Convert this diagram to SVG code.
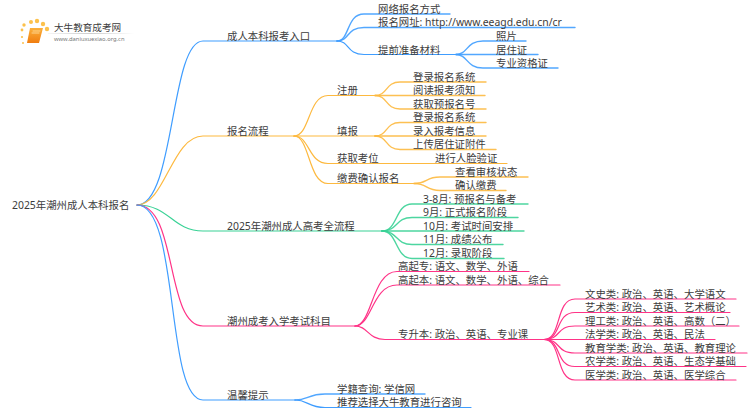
<svg xmlns="http://www.w3.org/2000/svg" width="750" height="410" viewBox="0 0 750 410">
<defs>
<linearGradient id="bk" x1="0" y1="0" x2="0" y2="1"><stop offset="0" stop-color="#fbb03b"/><stop offset="1" stop-color="#f07d10"/></linearGradient>
<linearGradient id="fade" x1="0" y1="0" x2="1" y2="0"><stop offset="0" stop-color="#ccc" stop-opacity="0.2"/><stop offset="0.5" stop-color="#ccc"/><stop offset="1" stop-color="#ccc" stop-opacity="0"/></linearGradient>
</defs>
<style>
text{font-family:"Noto Sans","Noto Sans CJK SC",sans-serif;font-size:10.4px;fill:#3c3c3c}
path{fill:none;stroke-width:1.2;stroke-linecap:round}
.b{stroke:#3f9dff}.o{stroke:#fdb93f}.g{stroke:#3ad296}.p{stroke:#ff3387}.u{stroke-width:1.4;stroke-opacity:.9}
.d{fill:#fcc14c}
</style>
<rect width="750" height="410" fill="#fff"/>
<g id="connectors">
<path class="b" d="M137 205C175 205 170 41 203 41H337"/>
<path class="o" d="M137 205C165 205 172 136 203 136H294"/>
<path class="g" d="M137 205C170 205 172 231 203 231H382"/>
<path class="p" d="M137 205C178 205 165 326 203 326H355"/>
<path class="b" d="M137 205C180 205 165 400 203 400H295"/>
<path class="b u" d="M337 41C350 41 346 14 364 14H450"/>
<path class="b u" d="M337 41C350 41 346 27.500 364 27.500H575"/>
<path class="b" d="M337 41C350 41 346 54.500 364 54.500H456"/>
<path class="b u" d="M456 54.500C468 54.500 466 41 483 41H526"/>
<path class="b u" d="M456 54.500H538"/>
<path class="b u" d="M456 54.500C468 54.500 466 68 483 68H558"/>
<path class="o" d="M294 136C310 136 308 95.500 328 95.500H375"/>
<path class="o" d="M294 136H375"/>
<path class="o" d="M294 136C310 136 308 163.500 328 163.500H507"/>
<path class="o" d="M294 136C310 136 308 183.500 328 183.500H414"/>
<path class="o u" d="M375 95.500C388 95.500 385 82 400 82H486"/>
<path class="o u" d="M375 95.500H485"/>
<path class="o u" d="M375 95.500C388 95.500 385 109 400 109H486"/>
<path class="o u" d="M375 136C388 136 385 122.500 400 122.500H486"/>
<path class="o u" d="M375 136H486"/>
<path class="o u" d="M375 136C388 136 385 149.500 400 149.500H496"/>
<path class="o u" d="M414 183.500C428 183.500 425 177 440 177H528"/>
<path class="o u" d="M414 183.500C428 183.500 425 190.500 440 190.500H506"/>
<path class="g u" d="M382 231C398 231 395 204 412 204H528"/>
<path class="g u" d="M382 231C398 231 395 217.500 412 217.500H518"/>
<path class="g u" d="M382 231H524"/>
<path class="g u" d="M382 231C398 231 395 244.500 412 244.500H503"/>
<path class="g u" d="M382 231C398 231 395 258.500 412 258.500H504"/>
<path class="p" d="M355 326C372 326 372 271.500 397 271.500H529"/>
<path class="p" d="M355 326C372 326 372 285 397 285H560"/>
<path class="p" d="M355 326C368 326 368 339.500 385 339.500H544"/>
<path class="p" d="M544 339.500C562 339.500 555 299 575 299H736"/>
<path class="p" d="M544 339.500C562 339.500 555 312.500 575 312.500H730"/>
<path class="p" d="M544 339.500C562 339.500 555 326 575 326H739"/>
<path class="p" d="M544 339.500H715"/>
<path class="p" d="M544 339.500C562 339.500 555 353 575 353H747"/>
<path class="p" d="M544 339.500C562 339.500 555 366.500 575 366.500H746"/>
<path class="p" d="M544 339.500C562 339.500 555 380 575 380H736"/>
<path class="b u" d="M295 400C308 400 308 394 325 394H425"/>
<path class="b" d="M295 400C308 400 308 407.500 325 407.500H471"/>
</g>
<g id="logo">
<circle class="d" cx="22" cy="30" r="1.400"/><circle class="d" cx="24" cy="25" r="1.700"/><circle class="d" cx="31" cy="22" r="2"/><circle class="d" cx="37" cy="21" r="2.200"/><circle class="d" cx="43" cy="24" r="2.200"/><circle class="d" cx="47" cy="29" r="2.200"/><circle class="d" cx="22" cy="37" r="1.100"/><circle class="d" cx="23" cy="43" r="1"/>
<path d="M30 28H43L39 43H27Z" style="fill:url(#bk);stroke:none"/><path d="M33 31H40M32 33H39" style="stroke:#ffe2a8;stroke-width:.8"/>
<rect x="48" y="33" width="86" height="1" fill="url(#fade)"/>
<text x="54" y="30.500" style="font-size:9.600px">大牛教育成考网</text>
<text x="54" y="41" style="font-size:5.800px;fill:#777">www.daniuxuexiao.org.cn</text>
</g>
<g id="root"><text x="12" y="209">2025年潮州成人本科报名</text></g>
<g id="n1"><text x="227" y="39.500">成人本科报考入口</text></g>
<g id="n1-1"><text x="378" y="12.500">网络报名方式</text></g>
<g id="n1-2"><text x="378" y="26">报名网址: http://www.eeagd.edu.cn/cr</text></g>
<g id="n1-3"><text x="378" y="53.500">提前准备材料</text></g>
<g id="n1-3-1"><text x="496" y="39.500">照片</text></g>
<g id="n1-3-2"><text x="496" y="53.500">居住证</text></g>
<g id="n1-3-3"><text x="496" y="67">专业资格证</text></g>
<g id="n2"><text x="227" y="134.500">报名流程</text></g>
<g id="n2-1"><text x="337" y="93.500">注册</text></g>
<g id="n2-1-1"><text x="413" y="80.500">登录报名系统</text></g>
<g id="n2-1-2"><text x="413" y="94">阅读报考须知</text></g>
<g id="n2-1-3"><text x="413" y="107.500">获取预报名号</text></g>
<g id="n2-2"><text x="337" y="134.500">填报</text></g>
<g id="n2-2-1"><text x="413" y="121">登录报名系统</text></g>
<g id="n2-2-2"><text x="413" y="134.500">录入报考信息</text></g>
<g id="n2-2-3"><text x="413" y="148">上传居住证附件</text></g>
<g id="n2-3"><text x="337" y="161.500">获取考位</text></g>
<g id="n2-3-1"><text x="435" y="161.500">进行人脸验证</text></g>
<g id="n2-4"><text x="337" y="182">缴费确认报名</text></g>
<g id="n2-4-1"><text x="455" y="175.500">查看审核状态</text></g>
<g id="n2-4-2"><text x="455" y="189">确认缴费</text></g>
<g id="n3"><text x="227" y="229.500">2025年潮州成人高考全流程</text></g>
<g id="n3-1"><text x="423" y="202.500">3-8月: 预报名与备考</text></g>
<g id="n3-2"><text x="423" y="216">9月: 正式报名阶段</text></g>
<g id="n3-3"><text x="423" y="229.500">10月: 考试时间安排</text></g>
<g id="n3-4"><text x="423" y="243">11月: 成绩公布</text></g>
<g id="n3-5"><text x="423" y="257">12月: 录取阶段</text></g>
<g id="n4"><text x="227" y="324.500">潮州成考入学考试科目</text></g>
<g id="n4-1"><text x="398" y="270">高起专: 语文、数学、外语</text></g>
<g id="n4-2"><text x="398" y="283.500">高起本: 语文、数学、外语、综合</text></g>
<g id="n4-3"><text x="398" y="338">专升本: 政治、英语、专业课</text></g>
<g id="n4-3-1"><text x="585" y="297.500">文史类: 政治、英语、大学语文</text></g>
<g id="n4-3-2"><text x="585" y="311">艺术类: 政治、英语、艺术概论</text></g>
<g id="n4-3-3"><text x="585" y="324.500">理工类: 政治、英语、高数（二）</text></g>
<g id="n4-3-4"><text x="585" y="338">法学类: 政治、英语、民法</text></g>
<g id="n4-3-5"><text x="585" y="351.500">教育学类: 政治、英语、教育理论</text></g>
<g id="n4-3-6"><text x="585" y="365">农学类: 政治、英语、生态学基础</text></g>
<g id="n4-3-7"><text x="585" y="378.500">医学类: 政治、英语、医学综合</text></g>
<g id="n5"><text x="227" y="399">温馨提示</text></g>
<g id="n5-1"><text x="337" y="392.500">学籍查询: 学信网</text></g>
<g id="n5-2"><text x="337" y="406">推荐选择大牛教育进行咨询</text></g>
</svg>
